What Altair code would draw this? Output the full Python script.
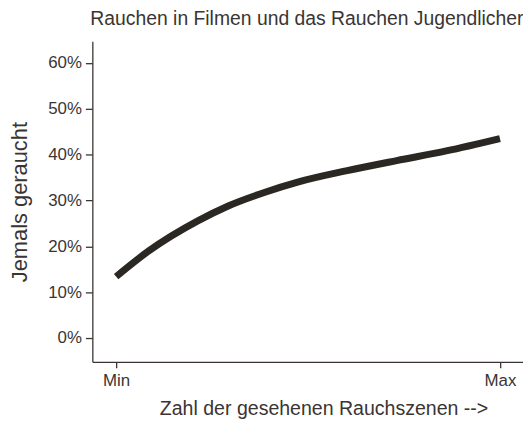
import altair as alt
import pandas as pd

# Data (x: 0 = Min, 1 = Max; y: share ever smoked)
exposure = [0.0, 0.085, 0.214, 0.292, 0.388, 0.473, 0.602, 0.731, 0.860, 1.0]
ever_smoked = [0.134, 0.190, 0.256, 0.288, 0.318, 0.340, 0.365, 0.387, 0.408, 0.435]

x_ticks = [0, 1]
x_tick_labels = ["Min", "Max"]
y_ticks = [0, 0.1, 0.2, 0.3, 0.4, 0.5, 0.6]

df = pd.DataFrame({"x": exposure, "y": ever_smoked})

text_color = "#3a3532"
font = "Liberation Sans"

label_expr = "datum.value == 0 ? '%s' : '%s'" % (x_tick_labels[0], x_tick_labels[1])

chart = (
    alt.Chart(df)
    .mark_line(color="#2b2723", strokeWidth=7, strokeCap="butt", interpolate="monotone")
    .encode(
        x=alt.X(
            "x:Q",
            scale=alt.Scale(domain=[-0.062, 1.06], nice=False, zero=False),
            axis=alt.Axis(
                values=x_ticks,
                labelExpr=label_expr,
                title="Zahl der gesehenen Rauchszenen -->",
                grid=False,
                tickSize=6,
                labelPadding=5,
                titlePadding=10,
                titleX=233,
                titleAlign="center",
                labelFontSize=17,
                titleFontSize=19.7,
                titleFontWeight="normal",
            ),
        ),
        y=alt.Y(
            "y:Q",
            scale=alt.Scale(domain=[-0.052, 0.647], nice=False, zero=False),
            axis=alt.Axis(
                values=y_ticks,
                format=".0%",
                title="Jemals geraucht",
                grid=False,
                tickSize=7,
                labelPadding=4,
                titlePadding=16,
                labelFontSize=17,
                titleFontSize=22,
                titleFontWeight="normal",
            ),
        ),
    )
    .properties(
        width=434,
        height=323,
        title=alt.TitleParams(
            "Rauchen in Filmen und das Rauchen Jugendlicher",
            anchor="start",
            frame="group",
            fontSize=19.5,
            fontWeight="normal",
            font=font,
            color=text_color,
            offset=12,
            dx=-2,
        ),
        autosize=alt.AutoSizeParams(type="none"),
        padding={"left": 85, "top": 32, "right": 0, "bottom": 60},
    )
    .configure_view(stroke=None)
    .configure_axis(
        domainColor=text_color,
        tickColor=text_color,
        labelColor=text_color,
        titleColor=text_color,
        labelFont=font,
        titleFont=font,
        domainWidth=1.3,
        tickWidth=1.3,
    )
)

chart.save("out.html", embed_options={"renderer": "svg", "actions": False})
